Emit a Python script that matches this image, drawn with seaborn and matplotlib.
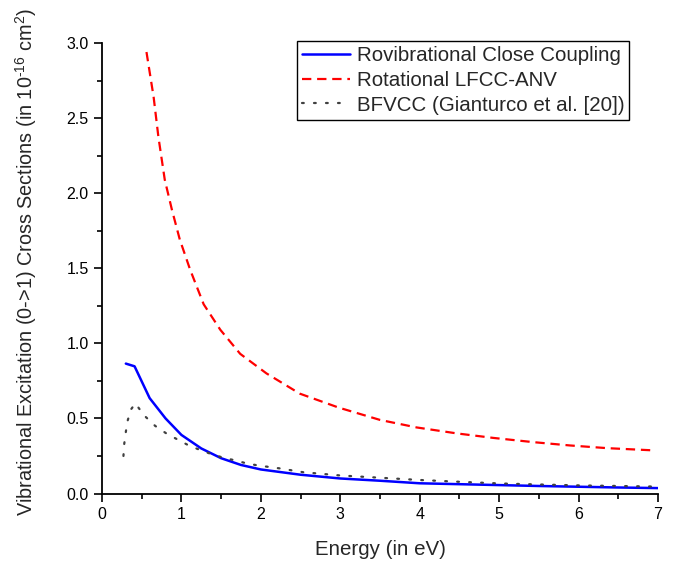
import matplotlib
matplotlib.use("Agg")
import matplotlib.pyplot as plt
from matplotlib.ticker import MultipleLocator
import seaborn as sns
import pandas as pd

# Data
blue_E = [0.3, 0.41, 0.6, 0.8, 1.0, 1.25, 1.5, 1.75, 2.0, 2.5, 3.0, 3.5, 4.0, 4.5, 5.0, 5.5, 6.0, 6.5, 7.0]
blue_sigma = [0.865, 0.847, 0.635, 0.50, 0.39, 0.30, 0.235, 0.19, 0.16, 0.125, 0.10, 0.085, 0.068,
              0.062, 0.056, 0.05, 0.045, 0.04, 0.036]

red_E = [0.56, 0.65, 0.71, 0.79, 0.88, 0.98, 1.11, 1.28, 1.49, 1.74, 2.07, 2.49, 2.98, 3.5, 3.96,
         4.47, 4.93, 5.43, 5.89, 6.36, 6.95]
red_sigma = [2.94, 2.64, 2.375, 2.09, 1.89, 1.69, 1.49, 1.26, 1.09, 0.93, 0.80, 0.665, 0.572, 0.49,
             0.44, 0.40, 0.37, 0.342, 0.32, 0.302, 0.287]

gray_E = [0.27, 0.28, 0.30, 0.32, 0.365, 0.42, 0.53, 0.67, 0.81, 0.96, 1.10, 1.25, 1.39, 1.53, 1.68,
          1.81, 1.96, 2.24, 2.53, 3.0, 3.5, 4.0, 4.5, 5.0, 5.5, 6.0, 6.5, 7.0]
gray_sigma = [0.25, 0.33, 0.41, 0.48, 0.56, 0.60, 0.52, 0.45, 0.40, 0.357, 0.318, 0.287, 0.26, 0.238,
              0.22, 0.202, 0.187, 0.167, 0.142, 0.12, 0.105, 0.09, 0.078, 0.067, 0.06, 0.054, 0.05, 0.046]

labels = ["Rovibrational Close Coupling", "Rotational LFCC-ANV", "BFVCC (Gianturco et al. [20])"]
x_ticks = [0, 1, 2, 3, 4, 5, 6, 7]
y_ticks = [0.0, 0.5, 1.0, 1.5, 2.0, 2.5, 3.0]

sns.set_style("ticks")
plt.rcParams['font.family'] = ['Liberation Sans', 'DejaVu Sans']
plt.rcParams['mathtext.fontset'] = 'custom'
plt.rcParams['mathtext.rm'] = 'Liberation Sans'
plt.rcParams['mathtext.it'] = 'Liberation Sans:italic'

fig = plt.figure(figsize=(6.78, 5.65), dpi=100)
ax = fig.add_axes([102/678, 1 - 493.5/565, 556/678, 450.5/565])

df_b = pd.DataFrame({"E": blue_E, "s": blue_sigma})
df_r = pd.DataFrame({"E": red_E, "s": red_sigma})
df_g = pd.DataFrame({"E": gray_E, "s": gray_sigma})

sns.lineplot(data=df_b, x="E", y="s", ax=ax, color="#0000ff", lw=1.8, label=labels[0])
sns.lineplot(data=df_r, x="E", y="s", ax=ax, color="#ff0000", lw=1.6,
             linestyle=(0, (4.2, 2.6)), label=labels[1])
sns.lineplot(data=df_g, x="E", y="s", ax=ax, color="#404040", lw=1.6,
             linestyle=(0, (0.8, 4.6)), dash_capstyle="round", label=labels[2])

ax.set_xlim(0, 7)
ax.set_ylim(0, 3.0)
ax.set_xticks(x_ticks)
ax.set_yticks(y_ticks)
ax.set_xticklabels([str(v) for v in x_ticks])
ax.set_yticklabels([f"{v:.1f}" for v in y_ticks])
ax.xaxis.set_minor_locator(MultipleLocator(0.5))
ax.yaxis.set_minor_locator(MultipleLocator(0.25))
ax.tick_params(which="major", direction="out", length=6, width=1.2, labelsize=11.5, color="black",
               labelcolor="black")
ax.tick_params(which="minor", direction="out", length=3.5, width=1.2, color="black")
for side in ["left", "bottom"]:
    ax.spines[side].set_linewidth(1.3)
    ax.spines[side].set_color("black")
sns.despine(ax=ax)

ax.set_xlabel("Energy (in eV)", fontsize=14.8, labelpad=13)
ax.set_ylabel("Vibrational Excitation (0->1) Cross Sections (in 10$^{\u201016}$ cm$^{2}$)",
              fontsize=14.3)
ax.yaxis.set_label_coords(-0.113, 0.513)

leg = ax.legend(loc="upper left", bbox_to_anchor=(297/678, 1 - 41/565), bbox_transform=fig.transFigure,
                borderaxespad=0, fontsize=14.8, frameon=True, fancybox=False, framealpha=1,
                edgecolor="black", handlelength=2.35, handletextpad=0.3, labelspacing=0.28,
                borderpad=0.25)
leg.get_frame().set_linewidth(1.0)

fig.savefig("out.png", dpi=100)
